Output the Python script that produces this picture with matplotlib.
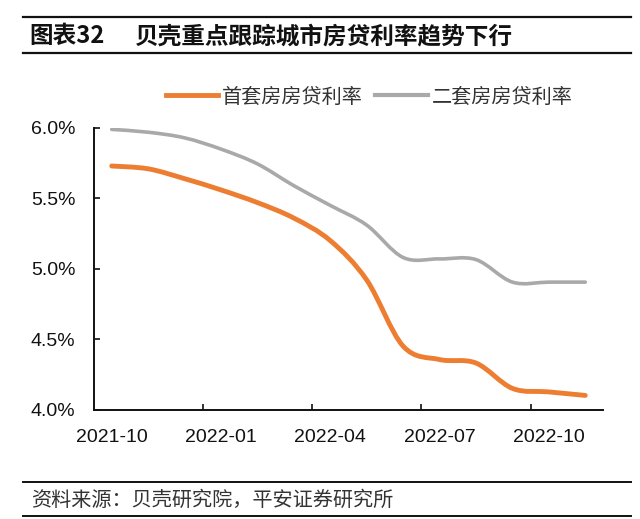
import matplotlib
matplotlib.use("Agg")
import matplotlib.pyplot as plt
from matplotlib.path import Path
from matplotlib.patches import PathPatch
from matplotlib.lines import Line2D
from matplotlib.ticker import FixedLocator, FuncFormatter

plt.rcParams['font.family'] = ['Liberation Sans', 'Noto Sans CJK SC', 'DejaVu Sans']

# monthly categories, 2021-10 .. 2022-11
months = ["2021-10", "2021-11", "2021-12", "2022-01", "2022-02", "2022-03", "2022-04",
          "2022-05", "2022-06", "2022-07", "2022-08", "2022-09", "2022-10", "2022-11"]
first_home = [5.73, 5.71, 5.64, 5.56, 5.47, 5.36, 5.20,
              4.92, 4.45, 4.355, 4.33, 4.15, 4.125, 4.10]
second_home = [5.99, 5.97, 5.93, 5.85, 5.745, 5.59, 5.45,
               5.31, 5.08, 5.07, 5.065, 4.905, 4.905, 4.905]
label_every = 3

ORANGE = '#ED7D31'
GRAY = '#A9A9AC'
CJK = ['Noto Sans CJK SC', 'DejaVu Sans']


def smooth_path(xs, ys):
    # Excel-style smoothed line: Catmull-Rom converted to cubic Bezier segments
    n = len(xs)
    verts = [(xs[0], ys[0])]
    codes = [Path.MOVETO]
    for i in range(n - 1):
        a = i - 1 if i > 0 else i
        d = i + 2 if i + 2 < n else i + 1
        c1 = (xs[i] + (xs[i + 1] - xs[a]) / 6, ys[i] + (ys[i + 1] - ys[a]) / 6)
        c2 = (xs[i + 1] - (xs[d] - xs[i]) / 6, ys[i + 1] - (ys[d] - ys[i]) / 6)
        verts += [c1, c2, (xs[i + 1], ys[i + 1])]
        codes += [Path.CURVE4] * 3
    return Path(verts, codes)


W, H = 640, 519
fig = plt.figure(figsize=(W / 100, H / 100), dpi=100)
fig.patch.set_facecolor('white')

ax = fig.add_axes([93.5 / W, 1 - 409.5 / H, 510 / W, 281.5 / H])
x = list(range(len(months)))

for vals, col, lw in [(second_home, GRAY, 2.6), (first_home, ORANGE, 3.5)]:
    patch = PathPatch(smooth_path(x, vals), fill=False, edgecolor=col, lw=lw,
                      capstyle='round', joinstyle='round')
    ax.add_patch(patch)

ax.set_xlim(-0.5, len(months) - 0.5)
ax.set_ylim(4.0, 6.0)

for s in ['top', 'right']:
    ax.spines[s].set_visible(False)
for s in ['left', 'bottom']:
    ax.spines[s].set_linewidth(1.4)
    ax.spines[s].set_color('#111111')

ax.set_yticks([4.0, 4.5, 5.0, 5.5, 6.0])
ax.yaxis.set_major_formatter(FuncFormatter(lambda v, p: f"{v:.1f}%"))
ax.tick_params(axis='y', direction='in', length=4, width=1.2, pad=13,
               labelsize=14, colors='#111111')

# labels on categories, tick marks between category groups
lab_pos = x[::label_every]
ax.set_xticks(lab_pos)
ax.set_xticklabels(months[::label_every])
ax.xaxis.set_minor_locator(FixedLocator([p + 2.5 for p in lab_pos[:-1]]))
ax.tick_params(axis='x', which='major', length=0, pad=14, labelsize=14, colors='#111111')
ax.tick_params(axis='x', which='minor', direction='in', length=4, width=1.2, color='#111111')

handles = [Line2D([], [], color=ORANGE, lw=3.5), Line2D([], [], color=GRAY, lw=3.0)]
fig.legend(handles, ["首套房房贷利率", "二套房房贷利率"], loc='center left',
           bbox_to_anchor=(166 / W, 1 - 97 / H), ncol=2, frameon=False,
           borderpad=0, borderaxespad=0, handlelength=2.6, handletextpad=0.2,
           columnspacing=0.6, prop={'family': CJK, 'size': 14.5}, labelcolor='#333333')

# title block with rules
fig.add_artist(Line2D([23 / W, 631 / W], [1 - 17 / H, 1 - 17 / H], color='#111111', lw=1.6))
fig.add_artist(Line2D([23 / W, 631 / W], [1 - 53 / H, 1 - 53 / H], color='#111111', lw=1.6))
fig.text(29 / W, 1 - 36 / H, "图表32", family=CJK, fontsize=17, weight='bold',
         va='center', ha='left', color='#111111')
fig.text(135 / W, 1 - 36 / H, "贝壳重点跟踪城市房贷利率趋势下行", family=CJK, fontsize=17,
         weight='bold', va='center', ha='left', color='#111111')

# source block
fig.add_artist(Line2D([23 / W, 631 / W], [1 - 482 / H, 1 - 482 / H], color='#111111', lw=1.4))
fig.add_artist(Line2D([23 / W, 631 / W], [1 - 516 / H, 1 - 516 / H], color='#111111', lw=1.4))
fig.text(31 / W, 1 - 500 / H, "资料来源：贝壳研究院，平安证券研究所", family=CJK,
         fontsize=14.5, style='italic', va='center', ha='left', color='#333333')

fig.savefig("out.png", dpi=100, facecolor='white')
